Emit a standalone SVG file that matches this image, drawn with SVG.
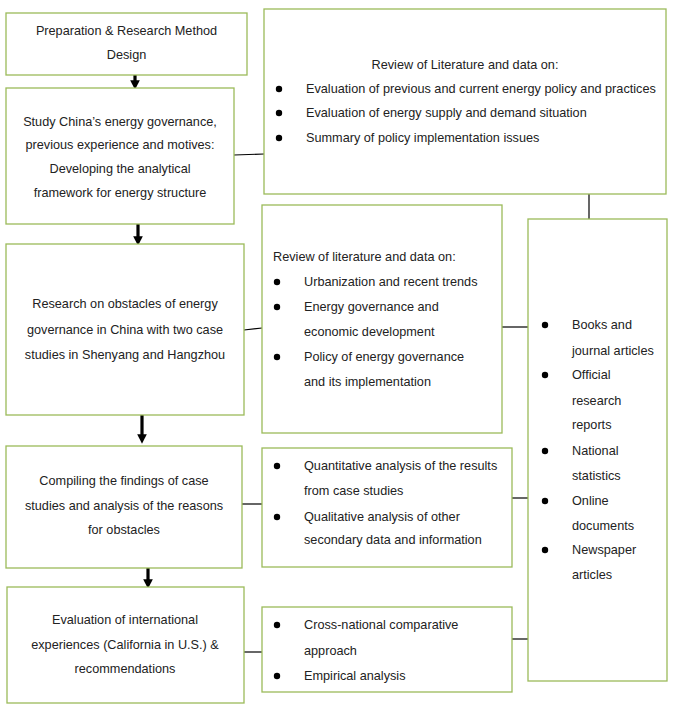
<svg xmlns="http://www.w3.org/2000/svg" width="675" height="720" viewBox="0 0 675 720">
<defs>
<style>
.box{fill:#ffffff;stroke:#9bbb59;stroke-width:1.3}
.t{font-family:"Liberation Sans",Arial,sans-serif;font-size:12.7px;fill:#222222}
.c{text-anchor:middle}
.ln{stroke:#000;stroke-width:1.2;fill:none}
.ar{stroke:#000;stroke-width:3.2;fill:none}
.b{fill:#000}
</style>
<marker id="ah" markerWidth="3" markerHeight="3" refX="1.2" refY="1.5" orient="auto" markerUnits="strokeWidth">
<path d="M0,0 L3,1.5 L0,3 z" fill="#000"/>
</marker>
</defs>
<rect width="675" height="720" fill="#ffffff"/>

<g id="connectors">
<line class="ar" x1="135" y1="75" x2="135" y2="84" marker-end="url(#ah)"/>
<line class="ar" x1="138" y1="224" x2="138" y2="240" marker-end="url(#ah)"/>
<line class="ar" x1="142" y1="415" x2="142" y2="438" marker-end="url(#ah)"/>
<line class="ar" x1="148" y1="568" x2="148" y2="583" marker-end="url(#ah)"/>
<line class="ln" x1="234" y1="155" x2="264" y2="154"/>
<line class="ln" x1="589" y1="194" x2="589" y2="219"/>
<line class="ln" x1="244" y1="330" x2="262" y2="328"/>
<line class="ln" x1="502" y1="327" x2="528" y2="327"/>
<line class="ln" x1="242" y1="504" x2="262" y2="504"/>
<line class="ln" x1="512" y1="498" x2="528" y2="498"/>
<line class="ln" x1="244" y1="652" x2="262" y2="652"/>
<line class="ln" x1="512" y1="639" x2="528" y2="639"/>
</g>

<g id="prep">
<rect class="box" x="6" y="13" width="241" height="62"/>
<text class="t c" x="126.5" y="35">Preparation &amp; Research Method</text>
<text class="t c" x="126.5" y="59">Design</text>
</g>

<g id="study">
<rect class="box" x="6" y="88" width="228" height="136"/>
<text class="t c" x="120" y="126">Study China’s energy governance,</text>
<text class="t c" x="120" y="149">previous experience and motives:</text>
<text class="t c" x="120" y="173">Developing the analytical</text>
<text class="t c" x="120" y="197">framework for energy structure</text>
</g>

<g id="review-top">
<rect class="box" x="264" y="9" width="402" height="185"/>
<text class="t c" x="465" y="69">Review of Literature and data on:</text>
<circle class="b" cx="279" cy="89" r="3.2"/>
<text class="t" x="306" y="93">Evaluation of previous and current energy policy and practices</text>
<circle class="b" cx="279" cy="113" r="3.2"/>
<text class="t" x="306" y="117">Evaluation of energy supply and demand situation</text>
<circle class="b" cx="279" cy="138" r="3.2"/>
<text class="t" x="306" y="142">Summary of policy implementation issues</text>
</g>

<g id="research">
<rect class="box" x="6" y="244" width="238" height="171"/>
<text class="t c" x="125" y="308">Research on obstacles of energy</text>
<text class="t c" x="125" y="334">governance in China with two case</text>
<text class="t c" x="125" y="359">studies in Shenyang and Hangzhou</text>
</g>

<g id="review-mid">
<rect class="box" x="262" y="205" width="240" height="228"/>
<text class="t" x="273" y="261">Review of literature and data on:</text>
<circle class="b" cx="277" cy="282" r="3.2"/>
<text class="t" x="304" y="286">Urbanization and recent trends</text>
<circle class="b" cx="277" cy="307" r="3.2"/>
<text class="t" x="304" y="311">Energy governance and</text>
<text class="t" x="304" y="336">economic development</text>
<circle class="b" cx="277" cy="357" r="3.2"/>
<text class="t" x="304" y="361">Policy of energy governance</text>
<text class="t" x="304" y="386">and its implementation</text>
</g>

<g id="sources">
<rect class="box" x="528" y="219" width="139" height="462"/>
<circle class="b" cx="545" cy="325" r="3.2"/>
<text class="t" x="572" y="329">Books and</text>
<text class="t" x="572" y="355">journal articles</text>
<circle class="b" cx="545" cy="375" r="3.2"/>
<text class="t" x="572" y="379">Official</text>
<text class="t" x="572" y="405">research</text>
<text class="t" x="572" y="429">reports</text>
<circle class="b" cx="545" cy="451" r="3.2"/>
<text class="t" x="572" y="455">National</text>
<text class="t" x="572" y="480">statistics</text>
<circle class="b" cx="545" cy="501" r="3.2"/>
<text class="t" x="572" y="505">Online</text>
<text class="t" x="572" y="530">documents</text>
<circle class="b" cx="545" cy="550" r="3.2"/>
<text class="t" x="572" y="554">Newspaper</text>
<text class="t" x="572" y="579">articles</text>
</g>

<g id="compiling">
<rect class="box" x="6" y="446" width="236" height="122"/>
<text class="t c" x="124" y="485">Compiling the findings of case</text>
<text class="t c" x="124" y="510">studies and analysis of the reasons</text>
<text class="t c" x="124" y="534">for obstacles</text>
</g>

<g id="analysis">
<rect class="box" x="262" y="448" width="250" height="119"/>
<circle class="b" cx="277" cy="466" r="3.2"/>
<text class="t" x="304" y="470">Quantitative analysis of the results</text>
<text class="t" x="304" y="495">from case studies</text>
<circle class="b" cx="277" cy="517" r="3.2"/>
<text class="t" x="304" y="521">Qualitative analysis of other</text>
<text class="t" x="304" y="544">secondary data and information</text>
</g>

<g id="evaluation">
<rect class="box" x="7" y="587" width="237" height="116"/>
<text class="t c" x="125" y="624">Evaluation of international</text>
<text class="t c" x="125" y="649">experiences (California in U.S.) &amp;</text>
<text class="t c" x="125" y="673">recommendations</text>
</g>

<g id="comparative">
<rect class="box" x="262" y="607" width="250" height="85"/>
<circle class="b" cx="277" cy="625" r="3.2"/>
<text class="t" x="304" y="629">Cross-national comparative</text>
<text class="t" x="304" y="655">approach</text>
<circle class="b" cx="277" cy="676" r="3.2"/>
<text class="t" x="304" y="680">Empirical analysis</text>
</g>
</svg>
